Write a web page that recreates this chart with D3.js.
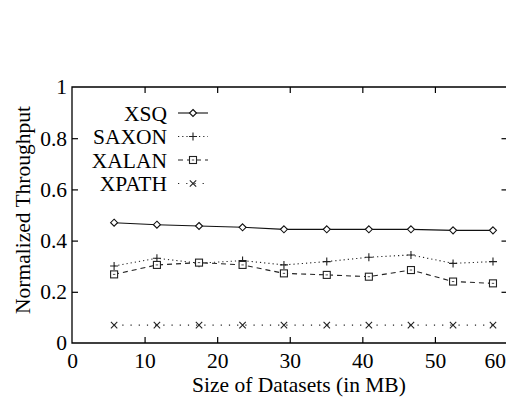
<!DOCTYPE html>
<html>
<head>
<meta charset="utf-8">
<script src="https://cdn.jsdelivr.net/npm/d3@7"></script>
<style>
  html, body { margin: 0; padding: 0; background: #fff; }
  svg { display: block; }
  text { font-family: "Liberation Serif", "FreeSerif", "Times New Roman", serif; fill: #000; }
</style>
</head>
<body>
<svg id="chart" width="506" height="398"></svg>
<script>
// ---- data ----
const sizes = [5.8, 11.7, 17.5, 23.5, 29.2, 35.1, 40.9, 46.7, 52.5, 58.0];
const xsq   = [0.470, 0.462, 0.457, 0.452, 0.444, 0.444, 0.444, 0.444, 0.440, 0.440];
const saxon = [0.301, 0.331, 0.312, 0.322, 0.305, 0.318, 0.335, 0.344, 0.311, 0.318];
const xalan = [0.268, 0.305, 0.314, 0.305, 0.272, 0.266, 0.259, 0.285, 0.240, 0.233];
const xpath = [0.070, 0.070, 0.070, 0.070, 0.070, 0.070, 0.070, 0.070, 0.070, 0.070];
const seriesNames = ["XSQ", "SAXON", "XALAN", "XPATH"];
const xTicks = [0, 10, 20, 30, 40, 50, 60];
const yTicks = [0, 0.2, 0.4, 0.6, 0.8, 1];
const xTitle = "Size of Datasets (in MB)";
const yTitle = "Normalized Throughput";

// ---- layout ----
const svg = d3.select("#chart");
const mL = 72, mR = 507.5, mT = 87, mB = 343;
const x = d3.scaleLinear().domain([0, 60]).range([mL, mR]);
const y = d3.scaleLinear().domain([0, 1]).range([mB, mT]);
const FS = 21.5;

const styles = [
  { data: xsq,   dash: null,    marker: "diamond", color: "#111" },
  { data: saxon, dash: "1.2,3", marker: "plus",    color: "#222" },
  { data: xalan, dash: "5,4",   marker: "square",  color: "#222" },
  { data: xpath, dash: "1.2,7", marker: "cross",   color: "#222" }
];

// frame
svg.append("path")
  .attr("d", `M${mR},${mT}H${mL}V${mB}H${mR}`)
  .attr("fill", "none").attr("stroke", "#000").attr("stroke-width", 1.3);

// axes
const fmtY = d => d === 0 ? "0" : d === 1 ? "1" : d3.format(".1f")(d);
const gx = svg.append("g").attr("transform", `translate(0,${mB})`)
  .call(d3.axisBottom(x).tickValues(xTicks).tickSizeInner(-6).tickSizeOuter(0).tickPadding(9.5));
const gxTop = svg.append("g").attr("transform", `translate(0,${mT})`)
  .call(d3.axisTop(x).tickValues(xTicks).tickSizeInner(-6).tickSizeOuter(0).tickFormat(""));
const gy = svg.append("g").attr("transform", `translate(${mL},0)`)
  .call(d3.axisLeft(y).tickValues(yTicks).tickSizeInner(-6).tickSizeOuter(0).tickPadding(5).tickFormat(fmtY));
const gyR = svg.append("g").attr("transform", `translate(${mR},0)`)
  .call(d3.axisRight(y).tickValues(yTicks).tickSizeInner(-6).tickSizeOuter(0).tickFormat(""));
[gx, gxTop, gy, gyR].forEach(g => {
  g.select(".domain").remove();
  g.selectAll(".tick line").attr("stroke", "#000").attr("stroke-width", 1.2);
  g.selectAll("text").attr("font-size", FS);
});
gx.selectAll(".tick text").filter(d => d === 60).attr("text-anchor", "end").attr("x", -2);
gy.selectAll(".tick").filter(d => d === 0 || d === 1).select("line").remove();
gyR.selectAll(".tick").filter(d => d === 0 || d === 1).select("line").remove();
gx.selectAll(".tick").filter(d => d === 0 || d === 60).select("line").remove();
gxTop.selectAll(".tick").filter(d => d === 0 || d === 60).select("line").remove();

// titles
svg.append("text").attr("x", 299).attr("y", 392).attr("text-anchor", "middle")
  .attr("font-size", FS).text(xTitle);
svg.append("text").attr("transform", "translate(30,210) rotate(-90)").attr("text-anchor", "middle")
  .attr("font-size", FS).text(yTitle);

// markers
function drawMarker(g, type, cx, cy, color) {
  const s = 3.5;
  if (type === "diamond") {
    g.append("path").attr("d", `M${cx},${cy - s}L${cx + s},${cy}L${cx},${cy + s}L${cx - s},${cy}Z`)
      .attr("fill", "#fff").attr("stroke", color).attr("stroke-width", 1.1);
  } else if (type === "plus") {
    g.append("path").attr("d", `M${cx - 4},${cy}H${cx + 4}M${cx},${cy - 4}V${cy + 4}`)
      .attr("stroke", color).attr("stroke-width", 1.1);
  } else if (type === "square") {
    g.append("rect").attr("x", cx - s).attr("y", cy - s).attr("width", 2 * s).attr("height", 2 * s)
      .attr("fill", "#fff").attr("stroke", color).attr("stroke-width", 1.1);
    g.append("path").attr("d", `M${cx - 1.2},${cy}H${cx + 1.2}`).attr("stroke", color).attr("stroke-width", 0.8);
  } else if (type === "cross") {
    g.append("path").attr("d", `M${cx - 3.2},${cy - 3.2}L${cx + 3.2},${cy + 3.2}M${cx - 3.2},${cy + 3.2}L${cx + 3.2},${cy - 3.2}`)
      .attr("stroke", color).attr("stroke-width", 1.1);
  }
}

const line = d3.line().x(d => x(d[0])).y(d => y(d[1]));
styles.forEach(st => {
  const pts = sizes.map((s, i) => [s, st.data[i]]);
  svg.append("path").attr("d", line(pts)).attr("fill", "none")
    .attr("stroke", st.color).attr("stroke-width", 1.1)
    .attr("stroke-dasharray", st.dash);
  const g = svg.append("g");
  pts.forEach(p => drawMarker(g, st.marker, x(p[0]), y(p[1]), st.color));
});

// legend
const legRows = [113, 136.5, 160, 183.5];
seriesNames.forEach((name, i) => {
  const st = styles[i];
  const cy = legRows[i];
  svg.append("text").attr("x", 167).attr("y", cy).attr("dy", "0.35em")
    .attr("text-anchor", "end").attr("font-size", FS).text(name);
  svg.append("path").attr("d", `M178,${cy}H208`).attr("fill", "none")
    .attr("stroke", st.color).attr("stroke-width", 1.1).attr("stroke-dasharray", st.dash);
  drawMarker(svg.append("g"), st.marker, 193, cy, st.color);
});
</script>
</body>
</html>
